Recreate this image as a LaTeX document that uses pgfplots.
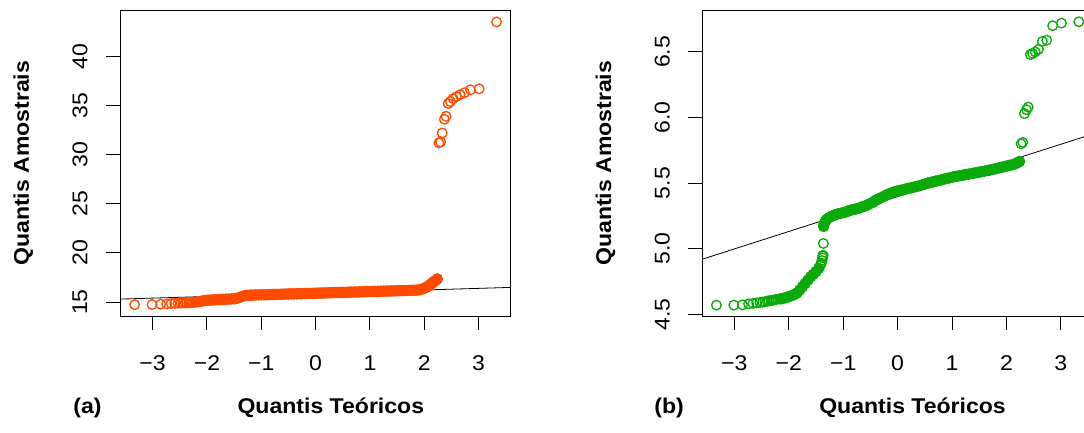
\documentclass[border=0pt]{standalone}
\usepackage{fontspec}
\setmainfont{Liberation Sans}[FakeStretch=1.08]
\usepackage{pgfplots}
\pgfplotsset{compat=1.18}
\definecolor{qorange}{RGB}{255,75,0}
\definecolor{qgreen}{RGB}{10,170,10}

\pgfplotstableread{
x y
-3.33 14.73
-3.01 14.75
-2.85 14.78
-2.74 14.80
-2.66 14.85
-2.59 14.87
-2.53 14.88
-2.48 14.90
-2.44 14.91
-2.40 14.92
-2.37 14.93
-2.33 14.94
-2.30 14.95
-2.27 14.96
-2.24 14.97
-2.20 15.00
-2.15 15.05
-2.10 15.09
-2.05 15.14
-2.00 15.18
-1.95 15.20
-1.90 15.21
-1.85 15.23
-1.80 15.24
-1.75 15.26
-1.70 15.27
-1.65 15.29
-1.60 15.30
-1.55 15.32
-1.50 15.33
-1.45 15.38
-1.40 15.47
-1.35 15.58
-1.30 15.66
-1.25 15.69
-1.20 15.70
-1.15 15.71
-1.10 15.72
-1.05 15.73
-1.00 15.74
-0.95 15.74
-0.90 15.75
-0.85 15.76
-0.80 15.77
-0.75 15.78
-0.70 15.78
-0.65 15.79
-0.60 15.80
-0.55 15.81
-0.50 15.82
-0.45 15.83
-0.40 15.83
-0.35 15.84
-0.30 15.85
-0.25 15.86
-0.20 15.87
-0.15 15.88
-0.10 15.88
-0.05 15.89
0.00 15.90
0.05 15.91
0.10 15.92
0.15 15.92
0.20 15.93
0.25 15.94
0.30 15.95
0.35 15.96
0.40 15.97
0.45 15.97
0.50 15.98
0.55 15.99
0.60 16.00
0.65 16.01
0.70 16.02
0.75 16.02
0.80 16.03
0.85 16.04
0.90 16.05
0.95 16.06
1.00 16.07
1.05 16.07
1.10 16.08
1.15 16.09
1.20 16.10
1.25 16.11
1.30 16.12
1.35 16.12
1.40 16.13
1.45 16.14
1.50 16.15
1.55 16.16
1.60 16.17
1.65 16.17
1.70 16.18
1.75 16.19
1.80 16.20
1.85 16.21
1.90 16.23
1.95 16.30
2.00 16.40
2.03 16.48
2.06 16.57
2.09 16.68
2.12 16.82
2.15 16.95
2.18 17.08
2.21 17.22
2.24 17.35
2.27 31.2
2.30 31.3
2.33 32.2
2.37 33.6
2.40 33.9
2.44 35.2
2.48 35.4
2.53 35.7
2.59 35.9
2.66 36.1
2.74 36.3
2.85 36.6
3.01 36.7
3.33 43.5
}\dataA

\pgfplotstableread{
x y
-3.33 4.570
-3.01 4.570
-2.85 4.572
-2.74 4.580
-2.66 4.583
-2.59 4.587
-2.53 4.590
-2.48 4.593
-2.44 4.595
-2.40 4.600
-2.37 4.602
-2.33 4.605
-2.30 4.607
-2.27 4.610
-2.24 4.612
-2.20 4.615
-2.15 4.618
-2.10 4.622
-2.05 4.628
-2.00 4.635
-1.95 4.642
-1.90 4.650
-1.85 4.662
-1.80 4.685
-1.75 4.710
-1.70 4.735
-1.65 4.760
-1.60 4.785
-1.55 4.805
-1.50 4.825
-1.45 4.850
-1.42 4.875
-1.40 4.890
-1.39 4.910
-1.38 4.930
-1.375 4.945
-1.37 4.950
-1.365 5.040
-1.36 5.170
-1.35 5.190
-1.33 5.210
-1.30 5.225
-1.25 5.240
-1.20 5.250
-1.15 5.260
-1.10 5.265
-1.05 5.270
-1.00 5.275
-0.95 5.280
-0.90 5.290
-0.85 5.295
-0.80 5.300
-0.75 5.305
-0.70 5.310
-0.65 5.320
-0.60 5.325
-0.55 5.335
-0.50 5.345
-0.45 5.355
-0.40 5.370
-0.35 5.380
-0.30 5.390
-0.25 5.400
-0.20 5.410
-0.15 5.420
-0.10 5.428
-0.05 5.435
0.00 5.440
0.05 5.445
0.10 5.450
0.15 5.455
0.20 5.460
0.25 5.465
0.30 5.470
0.35 5.475
0.40 5.480
0.45 5.487
0.50 5.493
0.55 5.500
0.60 5.505
0.65 5.510
0.70 5.515
0.75 5.520
0.80 5.525
0.85 5.530
0.90 5.535
0.95 5.540
1.00 5.545
1.05 5.550
1.10 5.553
1.15 5.557
1.20 5.560
1.25 5.565
1.30 5.568
1.35 5.572
1.40 5.576
1.45 5.580
1.50 5.584
1.55 5.588
1.60 5.592
1.65 5.596
1.70 5.600
1.75 5.605
1.80 5.610
1.85 5.615
1.90 5.620
1.95 5.625
2.00 5.630
2.05 5.635
2.10 5.640
2.15 5.645
2.20 5.655
2.24 5.665
2.27 5.80
2.30 5.81
2.33 6.03
2.37 6.06
2.40 6.08
2.44 6.48
2.48 6.49
2.53 6.50
2.59 6.52
2.66 6.58
2.74 6.59
2.85 6.70
3.01 6.72
3.33 6.73
}\dataB

\pgfplotsset{
  qqstyle/.style={
    scale only axis,
    width=293pt, height=229pt,
    anchor=south west,
    axis line style={line width=0.75pt},
    tick align=outside,
    major tick length=10.5pt,
    every tick/.style={black, line width=0.75pt},
    xtick pos=bottom, ytick pos=left,
    tick label style={font=\fontsize{16}{19}\selectfont},
    xtick={-3,-2,-1,0,1,2,3},
    xticklabels={−3,−2,−1,0,1,2,3},
    xticklabel style={anchor=center},
    yticklabel style={rotate=90, anchor=center},
    xticklabel shift=24.5pt,
    yticklabel shift=19.5pt,
  },
  ring/.style={only marks, mark=o, color=#1, mark size=3.6pt, mark options={line width=1pt}},
  disc/.style={only marks, mark=*, color=#1, mark size=3.8pt, mark options={line width=1pt, fill=#1}},
}

\begin{document}
\begin{tikzpicture}
\begin{axis}[qqstyle, at={(90pt,87pt)},
  xmin=-3.6, xmax=3.59, ymin=13.58, ymax=44.65,
  ytick={15,20,25,30,35,40},
  yticklabels={15,20,25,30,35,40}]
\addplot[disc=qorange, restrict x to domain=-2.21:2.25] table {\dataA};
\addplot[ring=qorange] table {\dataA};
\addplot[black, line width=0.6pt] coordinates {(-3.6,15.30) (3.59,16.49)};
\end{axis}
\begin{axis}[qqstyle, at={(526.7pt,87pt)},
  xmin=-3.59, xmax=3.59, ymin=4.487, ymax=6.815,
  ytick={4.5,5,5.5,6,6.5},
  yticklabels={4.5,5.0,5.5,6.0,6.5}]
\addplot[disc=qgreen, restrict x to domain=-2.16:-1.44] table {\dataB};
\addplot[disc=qgreen, restrict x to domain=-1.361:2.25] table {\dataB};
\addplot[ring=qgreen] table {\dataB};
\addplot[black, line width=0.6pt] coordinates {(-3.59,4.920) (3.59,5.875)};
\end{axis}
\begin{scope}[every node/.style={font=\fontsize{16}{19}\selectfont\bfseries, inner sep=0pt}]
\node[anchor=base] at (65.6pt,14pt) {(a)};
\node[anchor=base] at (248.1pt,14pt) {Quantis Teóricos};
\node[anchor=base] at (501.8pt,14pt) {(b)};
\node[anchor=base] at (684.4pt,14pt) {Quantis Teóricos};
\node[anchor=base, rotate=90] at (21.7pt,201.5pt) {Quantis Amostrais};
\node[anchor=base, rotate=90] at (458.4pt,201.5pt) {Quantis Amostrais};
\end{scope}
\pgfresetboundingbox
\useasboundingbox (0,0) rectangle (813pt,324pt);
\end{tikzpicture}
\end{document}
